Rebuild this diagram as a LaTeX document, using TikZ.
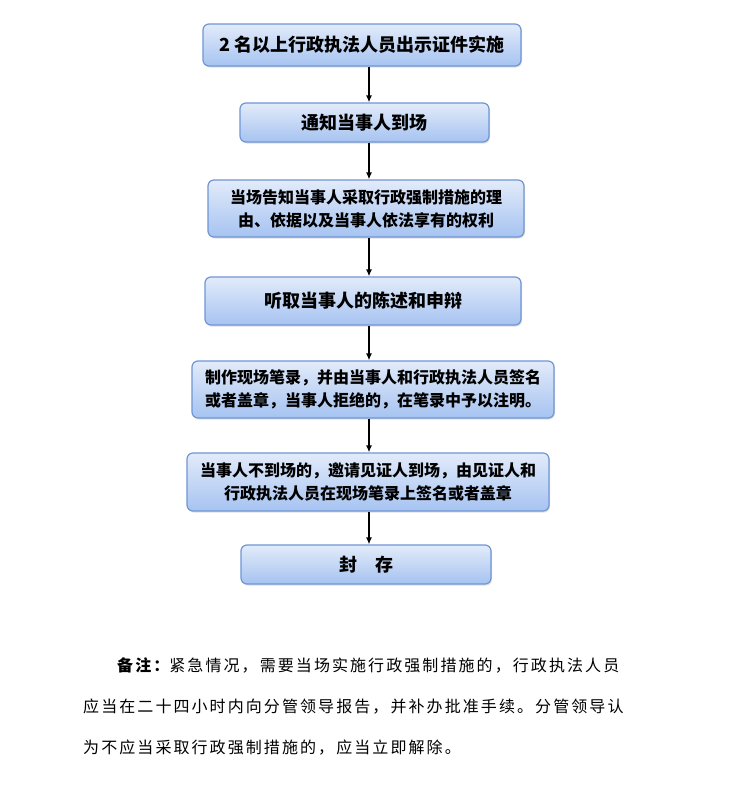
\documentclass[tikz,border=0pt]{standalone}
\usepackage{fontspec}
\newfontfamily\cjk{Noto Sans CJK SC}
\newfontfamily\notefont{Noto Sans CJK SC}[LetterSpace=13]
\usetikzlibrary{arrows.meta, shadows}
\definecolor{boxTop} {HTML}{E2EBFA}
\definecolor{boxBot} {HTML}{A6C3F1}
\definecolor{boxLine}{HTML}{7096D4}

\begin{document}
\begin{tikzpicture}[
    x=1pt, y=-1pt,
    stepbox/.style={
        draw=boxLine, line width=1.2pt, rounded corners=6pt,
        top color=boxTop, bottom color=boxBot,
        align=center, inner sep=0pt,
        font=\cjk\bfseries\fontsize{18}{23}\selectfont,
        drop shadow={opacity=0.25, shadow xshift=1pt, shadow yshift=-1.5pt}
    },
    twoline/.style={font=\cjk\bfseries\fontsize{16}{23}\selectfont},
    arrow/.style={-{Latex[length=7pt, width=6pt]}, line width=1.3pt, draw=black},
    note/.style={anchor=base west, inner sep=0pt,
        font=\notefont\fontsize{16}{20}\selectfont}
]

% ── CANVAS ─────────────────────────────────────────────────────
\useasboundingbox[fill=white] (0,0) rectangle (743,801);

\coordinate (axis) at (369,0);

% === FLOW BOXES ===
\node[stepbox, minimum width=318pt, minimum height=42pt]
    (show) at (362, 45)
    {2 名以上行政执法人员出示证件实施};

\node[stepbox, minimum width=249pt, minimum height=39pt]
    (notify) at (364.5, 122.5)
    {通知当事人到场};

\node[stepbox, twoline, minimum width=316pt, minimum height=57pt]
    (inform) at (366, 208.5)
    {当场告知当事人采取行政强制措施的理\\由、依据以及当事人依法享有的权利};

\node[stepbox, minimum width=316pt, minimum height=48pt]
    (hear) at (363, 301)
    {听取当事人的陈述和申辩};

\node[stepbox, twoline, minimum width=362pt, minimum height=57pt]
    (record) at (373, 389.5)
    {制作现场笔录，并由当事人和行政执法人员签名\\或者盖章，当事人拒绝的，在笔录中予以注明。};

\node[stepbox, twoline, minimum width=362pt, minimum height=58pt]
    (witness) at (368, 482)
    {当事人不到场的，邀请见证人到场，由见证人和\\行政执法人员在现场笔录上签名或者盖章};

\node[stepbox, minimum width=250pt, minimum height=39pt]
    (seal) at (366, 564.5)
    {封　存};

% ── ARROWS ─────────────────────────────────────────────────────
\draw[arrow] (show.south -| axis)    -- (notify.north -| axis);
\draw[arrow] (notify.south -| axis)  -- (inform.north -| axis);
\draw[arrow] (inform.south -| axis)  -- (hear.north -| axis);
\draw[arrow] (hear.south -| axis)    -- (record.north -| axis);
\draw[arrow] (record.south -| axis)  -- (witness.north -| axis);
\draw[arrow] (witness.south -| axis) -- (seal.north -| axis);

% === NOTE ===
\node[note] (note1) at (117, 671)
    {{\bfseries 备注：}紧急情况，需要当场实施行政强制措施的，行政执法人员};
\node[note] (note2) at (83, 712)
    {应当在二十四小时内向分管领导报告，并补办批准手续。分管领导认};
\node[note] (note3) at (83, 753)
    {为不应当采取行政强制措施的，应当立即解除。};

\end{tikzpicture}
\end{document}
